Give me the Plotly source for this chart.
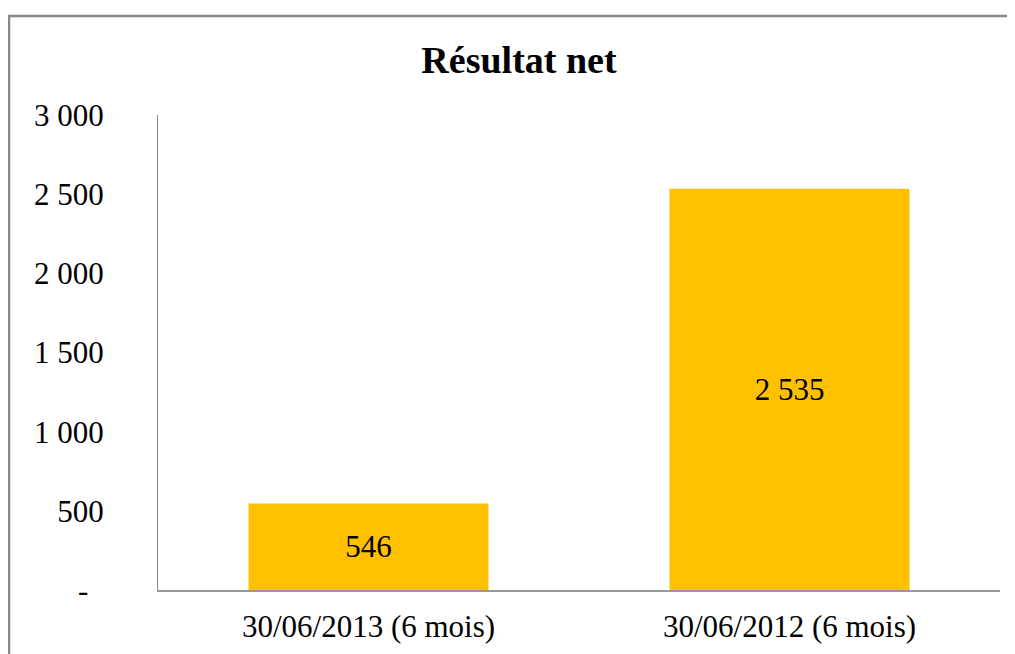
import plotly.graph_objects as go

categories = ["30/06/2013 (6 mois)", "30/06/2012 (6 mois)"]
values = [546, 2535]
value_labels = ["546", "2 535"]
tick_vals = [0, 500, 1000, 1500, 2000, 2500, 3000]
tick_text = ["-\u00a0\u00a0", "500", "1 000", "1 500", "2 000", "2 500", "3 000"]

FONT = "Liberation Serif, Times New Roman, serif"
W, H = 1015, 654
L, R, T, B = 150, 23, 107, 72

fig = go.Figure(go.Bar(
    x=categories, y=values, text=value_labels,
    textposition="inside", insidetextanchor="middle",
    textfont=dict(family=FONT, size=31, color="black"),
    marker=dict(color="#FFC000", line=dict(width=0)),
    width=0.57, cliponaxis=False,
))

fig.update_layout(
    width=W, height=H,
    margin=dict(l=L, r=R, t=T, b=B),
    paper_bgcolor="white", plot_bgcolor="white",
    font=dict(family=FONT, size=31, color="black"),
    title=dict(text="<b>Résultat net</b>", x=511/W, xref="container", xanchor="center",
               y=1-52/H, yref="container", yanchor="middle",
               font=dict(family=FONT, size=38, color="black")),
    showlegend=False,
    bargap=0.43,
)
fig.update_yaxes(range=[0, 3000], tickvals=tick_vals, ticktext=tick_text,
                 showgrid=False, zeroline=False, showline=True, linecolor="#888888", linewidth=1,
                 ticks="", ticklabelstandoff=47, tickfont=dict(family=FONT, size=31))
fig.update_xaxes(showgrid=False, showline=True, linecolor="#999999", linewidth=1.5,
                 ticks="", ticklabelstandoff=8, tickfont=dict(family=FONT, size=31))

pw, ph = W - L - R, H - T - B
fig.add_shape(type="rect", xref="paper", yref="paper",
              x0=(1 - L)/pw, x1=1.2, y0=-0.5, y1=1 + (T - 8)/ph,
              line=dict(color="#888888", width=2.5), fillcolor="rgba(0,0,0,0)", layer="below")

fig.write_html("out.html")
